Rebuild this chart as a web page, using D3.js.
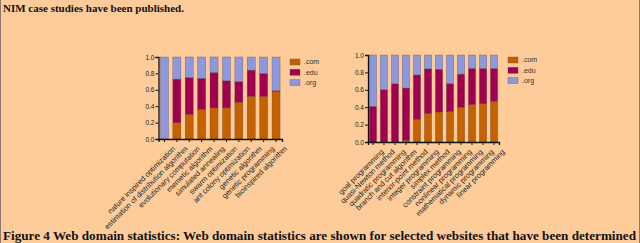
<!DOCTYPE html>
<html>
<head>
<meta charset="utf-8">
<script src="https://cdn.jsdelivr.net/npm/d3@7"></script>
<style>
  html, body { margin: 0; padding: 0; background: #FECC9A; }
  svg { display: block; }
</style>
</head>
<body>
<script>
// left panel: metaheuristics
var leftCategories = ['nature inspired optimization', 'estimation of distribution algorithm',
  'evolutionary computation', 'memetic algorithm', 'simulated annealing', 'swarm optimization',
  'ant colony optimization', 'genetic algorithm', 'genetic programming', 'bioinspired algorithm'];
var leftCom = [0, 0.20, 0.30, 0.36, 0.38, 0.38, 0.45, 0.52, 0.52, 0.58];
var leftEdu = [0, 0.53, 0.45, 0.38, 0.43, 0.33, 0.25, 0.32, 0.28, 0.01];
var leftOrg = [1, 0.27, 0.25, 0.26, 0.19, 0.29, 0.30, 0.16, 0.20, 0.41];

// right panel: classical optimization
var rightCategories = ['goal programming', 'quasi-Newton method', 'quadratic programming',
  'branch and cut algorithm', 'interior-point method', 'integer programming', 'simplex method',
  'constraint programming', 'nonlinear programming', 'mathematical programming',
  'dynamic programming', 'linear programming'];
var rightCom = [0, 0, 0, 0.02, 0.26, 0.33, 0.345, 0.35, 0.40, 0.43, 0.44, 0.47];
var rightEdu = [0.41, 0.60, 0.67, 0.60, 0.51, 0.51, 0.49, 0.32, 0.38, 0.415, 0.405, 0.375];
var rightOrg = [0.59, 0.40, 0.33, 0.38, 0.23, 0.16, 0.165, 0.33, 0.22, 0.155, 0.155, 0.155];

var yTicks = [0, 0.2, 0.4, 0.6, 0.8, 1.0];
var domains = ['.com', '.edu', '.org'];

var titleText = 'NIM case studies have been published.';
var captionText = 'Figure 4 Web domain statistics: Web domain statistics are shown for selected websites that have been determined';

var colors = { '.com': '#C46200', '.edu': '#A00050', '.org': '#8E98DE' };

var w = 640;
var h = 243;

var svg = d3.select('body')
            .append('svg')
            .attr('width', w)
            .attr('height', h);

svg.append('rect')
  .attr('width', w).attr('height', h)
  .attr('fill', '#FECC9A');

// thin page edges
svg.append('line').attr('x1', 0.5).attr('x2', 0.5).attr('y1', 0).attr('y2', h)
  .attr('stroke', '#8a7a6a').attr('stroke-width', 1);
svg.append('line').attr('x1', w - 0.5).attr('x2', w - 0.5).attr('y1', 0).attr('y2', h)
  .attr('stroke', '#8a7a6a').attr('stroke-width', 1);

svg.append('text')
  .attr('x', 3).attr('y', 12)
  .attr('font-family', '"Liberation Serif", "Times New Roman", serif')
  .attr('font-weight', 'bold')
  .attr('font-size', '11px')
  .attr('fill', '#111')
  .text(titleText);

// caption squeezed to the page width like the scan
svg.append('text')
  .attr('x', 3).attr('y', 240)
  .attr('font-family', '"Liberation Serif", "Times New Roman", serif')
  .attr('font-weight', 'bold')
  .attr('font-size', '13px')
  .attr('textLength', 633)
  .attr('lengthAdjust', 'spacingAndGlyphs')
  .attr('fill', '#111')
  .text(captionText);

function drawPanel(opts) {
  var rows = opts.categories.map(function (c, i) {
    return { cat: c, '.com': opts.com[i], '.edu': opts.edu[i], '.org': opts.org[i] };
  });

  var x = d3.scaleBand()
    .domain(opts.categories)
    .range([opts.x0, opts.x1])
    .paddingInner(opts.padIn)
    .paddingOuter(opts.padOut);

  var y = d3.scaleLinear()
    .domain([0, 1])
    .range([opts.y0, opts.y1]);

  var stack = d3.stack().keys(domains)(rows);

  var g = svg.append('g');

  g.selectAll('g.layer')
    .data(stack)
    .enter()
    .append('g')
      .attr('class', 'layer')
      .attr('fill', function (d) { return colors[d.key]; })
    .selectAll('rect')
    .data(function (d) { return d; })
    .enter()
    .append('rect')
      .attr('x', function (d) { return x(d.data.cat); })
      .attr('y', function (d) { return y(d[1]); })
      .attr('width', x.bandwidth())
      .attr('height', function (d) { return Math.max(0, y(d[0]) - y(d[1])); })
      .attr('stroke', '#5a4040')
      .attr('stroke-opacity', 0.6)
      .attr('stroke-width', 0.5);

  var yAxis = g.append('g')
    .attr('transform', 'translate(' + opts.x0 + ',0)')
    .call(d3.axisLeft(y).tickValues(yTicks).tickFormat(d3.format('.1f')).tickSize(3).tickPadding(1));

  var xAxis = g.append('g')
    .attr('transform', 'translate(0,' + opts.y0 + ')')
    .call(d3.axisBottom(x).tickSize(3).tickPadding(2));

  [yAxis, xAxis].forEach(function (a) {
    a.select('.domain').attr('stroke', '#111').attr('stroke-width', 1.3);
    a.selectAll('.tick line').attr('stroke', '#111').attr('stroke-width', 1);
    a.selectAll('text')
      .attr('font-family', '"Liberation Sans", Arial, sans-serif')
      .attr('font-size', '6.5px')
      .attr('fill', '#222');
  });

  xAxis.selectAll('.tick text')
    .attr('font-size', '7.5px')
    .attr('text-anchor', 'end')
    .attr('dy', '0.7em')
    .attr('transform', 'translate(4,3) rotate(-45)');

  // legend
  var leg = g.selectAll('g.leg')
    .data(domains)
    .enter()
    .append('g')
      .attr('class', 'leg')
      .attr('transform', function (d, i) {
        return 'translate(' + opts.legX + ',' + (opts.legY + i * 10.3) + ')';
      });

  leg.append('rect')
    .attr('x', 0).attr('y', -3)
    .attr('width', 10).attr('height', 6)
    .attr('fill', function (d) { return colors[d]; })
    .attr('stroke', '#5a4040')
    .attr('stroke-opacity', 0.6)
    .attr('stroke-width', 0.5);

  leg.append('text')
    .attr('x', 14).attr('y', 0)
    .attr('dy', '0.35em')
    .attr('font-family', '"Liberation Sans", Arial, sans-serif')
    .attr('font-size', '7px')
    .attr('fill', '#333')
    .text(function (d) { return d; });
}

drawPanel({
  categories: leftCategories, com: leftCom, edu: leftEdu, org: leftOrg,
  x0: 158.5, x1: 282, y0: 139, y1: 57, padIn: 0.35, padOut: 0.155,
  legX: 290, legY: 62
});

drawPanel({
  categories: rightCategories, com: rightCom, edu: rightEdu, org: rightOrg,
  x0: 368, x1: 499, y0: 142, y1: 55, padIn: 0.34, padOut: 0.12,
  legX: 508, legY: 60
});
</script>
</body>
</html>
